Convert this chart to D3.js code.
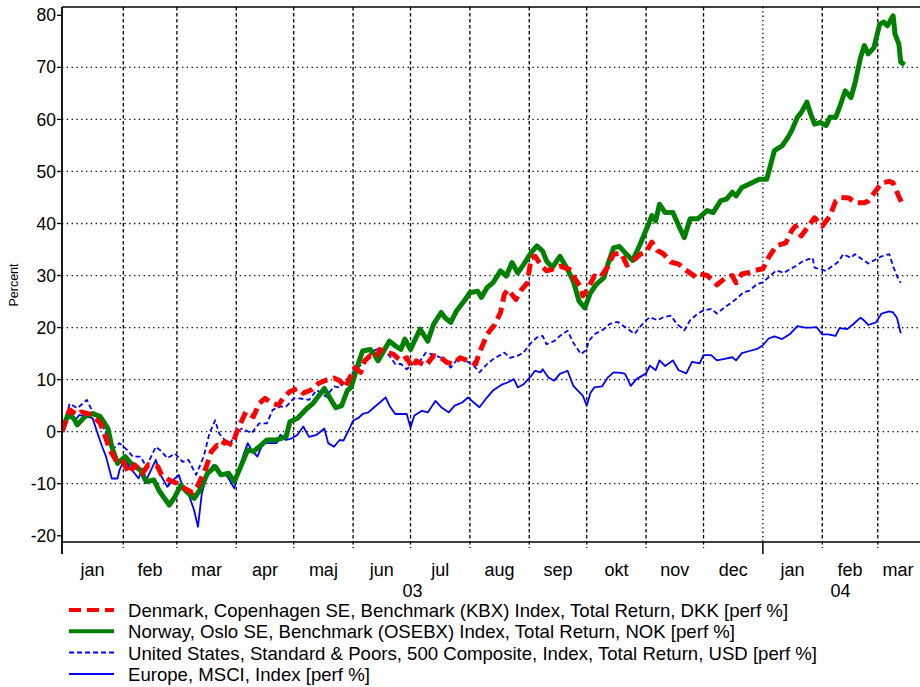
<!DOCTYPE html>
<meta charset="utf-8">
<script src="https://d3js.org/d3.v7.min.js"></script>
<style>
body { margin: 0; background: #fff; }
text { font-family: "Liberation Sans", Arial, sans-serif; fill: #000; }
</style>
<div id="chart"></div>
<script>

// days counted from 31 Dec 2002, values in percent
var dkDays = [0,4,8,10,13,16,20,22,25,28,31,35,38,42,45,50,52,56,60,64,68,71,75,78,81,83,85,89,91,94,96,100,103,106,110,113,116,119,123,126,130,134,138,142,145,148,150,153,156,158,161,164,166,170,173,177,180,183,185,190,194,198,201,204,208,212,216,218,222,226,229,231,233,237,240,243,245,247,250,253,256,260,265,268,271,272,275,278,281,285,288,292,295,299,302,305,308,311,314,318,322,326,331,333,337,340,342,346,350,352,355,359,362,366,369,373,378,381,383,386,391,393,397,401,404,407,411,414,419,421,426,428,432,434,437,439];
var dkValues = [0,4.2,3.2,3.8,3.5,3.2,1.6,-0.3,-3.5,-5.4,-5.1,-8,-6.4,-8,-6.4,-6.7,-8.3,-9.3,-9.9,-10.9,-11.7,-10.3,-7.1,-3.8,-2.6,-2.9,-1.9,-2.6,-0.3,2.2,3.8,2.9,5.4,6.4,5.4,5.1,6.7,7.7,8.3,7.4,8,9.3,9.9,10.3,9.8,8.5,10.1,12.3,11.4,13.6,14.6,14.2,15.8,15.2,14.9,13.6,14.2,12.3,13.6,12.7,14.6,14.2,13.3,13,14.2,13.6,13,15.2,18.7,20.6,22.9,26.4,27.3,25.4,27.3,28.6,33.4,33.7,32.1,30.9,31.2,31.8,31.2,29.3,27.7,26.1,27.7,29.9,29.6,31.7,34.1,34.3,32,33.1,34.1,34.5,36.4,34.8,34.2,32.6,32.2,31,29.7,30.3,30,29,28.2,29.4,30,28.6,30.3,30.6,31,31.3,33.5,35.7,36.3,38.6,39.5,37.6,40.1,41.1,39.5,41.4,44.3,45,44.9,44,44,44.3,46.8,47.8,48.1,47.8,45.2,43.6];

var noDays = [0,3,6,8,12,16,20,24,26,29,33,36,41,44,48,51,56,59,62,65,69,72,76,80,83,87,90,94,97,100,103,107,112,117,119,123,128,131,137,140,143,146,149,151,154,157,161,163,165,168,171,174,177,179,182,184,187,191,194,198,200,203,206,210,213,217,219,222,225,229,232,235,238,241,245,248,251,253,256,260,264,267,270,273,276,279,283,285,288,291,294,298,302,306,308,310,312,315,319,322,325,328,332,337,340,344,347,350,352,355,359,364,368,372,376,379,381,384,386,389,391,393,396,399,401,404,406,409,412,414,417,419,421,424,427,429,431,434,435,437,438,440];
var noValues = [0,3.2,2.6,1.3,2.9,3.5,2.9,0.6,-2.9,-6.1,-4.8,-6.1,-7.4,-9.6,-9.3,-11.5,-14.1,-12.5,-10.3,-11.5,-12.8,-11.2,-8,-6.7,-8.3,-8,-9.6,-6.1,-3.5,-3.8,-2.9,-1.6,-1.6,-1,1.9,2.6,4.5,5.4,8.3,6.4,4.6,5,7.9,8.5,12.3,15.5,15.8,14.9,13.6,15.5,17.4,16.5,15.8,17.8,15.8,17.4,19.7,17.4,20.6,22.9,21.9,21,23.2,25.1,26.7,27,25.8,27.7,28.6,30.9,29.9,32.5,30.5,32.1,34.4,35.7,34.7,32.8,31.5,33.7,31.2,28.9,25.1,23.8,26.7,28.3,29.6,32.1,35.3,35.6,34.4,32.9,36.1,39.6,41.5,40.5,43.7,42.1,42.1,39.6,37.3,40.9,40.9,42.5,42.1,44.4,44.7,46,45.3,46.9,47.6,48.5,48.5,54,54.9,56.5,57.8,60.4,61.3,63.3,61,59.1,59.4,58.8,60.4,60.4,62.3,65.5,64.2,66.8,71.9,74.2,72.6,73.8,78.3,78.7,78,79.9,76.4,74.5,71,70.5];

var usDays = [0,4,8,13,16,20,23,27,30,34,37,41,44,49,52,55,59,63,66,70,74,77,80,82,85,88,91,94,99,103,107,110,114,117,121,124,129,133,138,142,145,150,154,157,160,164,167,171,174,177,180,184,187,190,193,198,200,203,207,211,215,218,222,225,231,234,238,241,245,248,251,253,257,260,264,267,271,274,275,278,283,286,290,294,299,304,307,311,314,318,321,325,328,332,335,339,342,346,350,352,356,359,363,366,370,373,377,380,383,387,392,393,396,399,401,405,408,412,414,418,421,425,428,432,434,436,438];
var usValues = [0,5.4,4.5,6.1,3.8,2.2,-0.3,-3.2,-2.2,-3.5,-4.8,-4.8,-6.7,-2.9,-3.8,-5.1,-4.2,-5.8,-5.4,-8.3,-4.8,-0.3,2.2,-0.3,-1.6,-2.2,0,0.6,-0.3,1.6,1.6,4.2,4.8,4.8,6.4,6.4,6.1,8,6.7,8.7,8.5,10.5,12.3,13,14.6,15.8,15.8,14.6,13,13,12,13.3,13.6,15.2,14.9,14.2,13.3,12.3,14.2,13.6,12.7,11.4,13,13.9,15.2,14.2,14.6,15.2,17.1,18.1,18.4,16.8,17.4,18.4,19.4,17.1,14.9,15.8,17.4,18.7,19.7,20.7,21.1,20.1,18.8,21.1,22,21.4,22,22.3,20.7,19.5,21.4,22.7,23.3,23.6,22.7,23.9,24.9,25.5,26.8,27.1,28.4,28.7,30,31,30.5,31.2,31.8,32.8,33.4,31.5,31.2,30.9,31.5,32.5,34.1,33.4,34.1,33.1,32.3,33.1,33.7,34.1,31.8,29.9,28.6];

var euDays = [0,4,7,9,13,16,18,21,23,26,29,30,33,35,36,40,42,44,49,51,55,58,61,63,66,69,71,73,76,79,81,83,85,87,90,92,95,97,99,102,105,109,112,114,117,120,123,126,129,133,137,139,142,145,147,150,152,155,157,160,163,166,169,171,174,177,180,182,184,188,191,195,198,202,205,209,212,215,218,222,225,230,233,236,238,241,245,247,250,251,254,257,260,264,267,272,274,276,278,282,285,288,292,294,297,300,305,307,310,312,315,319,322,326,329,333,335,339,342,346,350,352,355,359,363,366,369,372,376,380,384,388,391,394,397,400,404,406,410,413,417,419,421,425,428,432,434,436,438];
var euValues = [0,3.8,2.2,3.2,2.9,2.6,0.3,-2.9,-4.8,-9,-9,-7.4,-5.1,-6.7,-7.1,-9,-7.1,-9.3,-5.4,-8,-10.6,-9.3,-8.3,-10.6,-11.9,-15.1,-18.3,-11.9,-8,-6.4,-6.7,-8,-8,-9,-10.9,-8,-4.2,-2.2,-3.5,-4.8,-2.2,-2.2,-2.2,-0.6,-1.6,-1.3,-0.6,1,-1,-0.6,0.6,-2.2,-2.9,-1.6,-1.7,0.5,2.1,2.7,3.4,3.7,4.7,5.6,6.6,5,3.4,3.4,3.4,0.8,3.1,4,3.7,5.9,4.7,3.7,5,5.6,6.6,5.6,4.7,6.6,7.9,9.1,9.5,10.1,8.5,9.1,10.7,11.7,11.4,12,10.4,9.8,11.1,11.7,8.8,6.9,5,7.5,8.5,8.7,10.4,11.4,11.3,11.1,8.8,10.1,11.2,12.7,11.8,13.7,12.6,13.7,11.8,11.2,13.4,13.1,14.7,14.7,13.7,14,14.3,13.7,15.1,15.5,15.9,16.6,17.9,18.3,17.8,18.7,20.3,20,20,20.1,18.7,18.7,18.4,19.9,19.7,20.6,21.9,21.3,20.5,21,22.7,23.1,22.9,21.9,18.9];

var seriesNames = [
  "Denmark, Copenhagen SE, Benchmark (KBX) Index, Total Return, DKK [perf %]",
  "Norway, Oslo SE, Benchmark (OSEBX) Index, Total Return, NOK [perf %]",
  "United States, Standard & Poors, 500 Composite, Index, Total Return, USD [perf %]",
  "Europe, MSCI, Index [perf %]"
];
var monthNames = ["jan","feb","mar","apr","maj","jun","jul","aug","sep","okt","nov","dec"];
var yTicks = [-20,-10,0,10,20,30,40,50,60,70,80];
var yGrid = [-10,0,10,20,30,40,50,60,70];

var W = 920, H = 687;
var pLeft = 62, pRight = 918, pTop = 7, pBottom = 542;

var svg = d3.select("#chart").append("svg")
  .attr("width", W).attr("height", H);

var start = new Date(2002, 11, 31), end = new Date(2004, 2, 22);
var x = d3.scaleTime().domain([start, end]).range([pLeft, pRight]);
var y = d3.scaleLinear().domain([-21.2, 81.6]).range([pBottom, pTop]);

svg.append("clipPath").attr("id", "clip")
  .append("rect").attr("x", pLeft).attr("y", pTop)
  .attr("width", W - pLeft).attr("height", pBottom - pTop);

// horizontal dotted grid
svg.selectAll(".hgrid").data(yGrid).enter().append("line")
  .attr("x1", pLeft).attr("x2", W)
  .attr("y1", function(d) { return y(d); })
  .attr("y2", function(d) { return y(d); })
  .attr("stroke", "#000").attr("stroke-width", 1.3)
  .attr("stroke-dasharray", "1.3,3.5");

// month boundaries
var months = d3.timeMonth.range(new Date(2003, 1, 1), end);
var isYear = function(d) { return d.getMonth() === 0; };
svg.selectAll(".vgrid").data(months).enter().append("line")
  .attr("x1", function(d) { return x(d); })
  .attr("x2", function(d) { return x(d); })
  .attr("y1", pTop).attr("y2", function(d) { return isYear(d) ? pBottom : pBottom + 6; })
  .attr("stroke", "#000").attr("stroke-width", 1.3)
  .attr("stroke-dasharray", function(d) { return isYear(d) ? "1.3,3" : "3.5,2.5"; });
svg.selectAll(".ytick").data(months.filter(isYear)).enter().append("line")
  .attr("x1", function(d) { return x(d); })
  .attr("x2", function(d) { return x(d); })
  .attr("y1", pBottom).attr("y2", pBottom + 12)
  .attr("stroke", "#000").attr("stroke-width", 1.5);

// series
var series = [
  {days: dkDays, values: dkValues, color: "#ff0000", width: 5, dash: "12,6"},
  {days: noDays, values: noValues, color: "#008000", width: 5, dash: null},
  {days: usDays, values: usValues, color: "#0000ff", width: 1.8, dash: "5,3"},
  {days: euDays, values: euValues, color: "#0000ff", width: 1.8, dash: null}
];
var line = d3.line()
  .x(function(d) { return x(d3.timeDay.offset(start, d[0])); })
  .y(function(d) { return y(d[1]); });

var drawOrder = [3, 2, 1, 0];
drawOrder.forEach(function(i) {
  var s = series[i];
  svg.append("path")
    .datum(d3.zip(s.days, s.values))
    .attr("clip-path", "url(#clip)")
    .attr("fill", "none")
    .attr("stroke", s.color)
    .attr("stroke-width", s.width)
    .attr("stroke-linejoin", "round")
    .attr("stroke-dasharray", s.dash)
    .attr("d", line);
});

// axes frame
svg.append("line").attr("x1", pLeft).attr("x2", pLeft).attr("y1", pTop).attr("y2", pBottom + 12)
  .attr("stroke", "#000").attr("stroke-width", 1.8);
svg.append("line").attr("x1", pLeft).attr("x2", W).attr("y1", pTop).attr("y2", pTop)
  .attr("stroke", "#000").attr("stroke-width", 1.5);
svg.append("line").attr("x1", pLeft).attr("x2", W).attr("y1", pBottom).attr("y2", pBottom)
  .attr("stroke", "#000").attr("stroke-width", 1.5);

// y ticks and labels
svg.selectAll(".yt").data(yTicks).enter().append("line")
  .attr("x1", pLeft - 5).attr("x2", pLeft)
  .attr("y1", function(d) { return y(d); }).attr("y2", function(d) { return y(d); })
  .attr("stroke", "#000").attr("stroke-width", 1.3);
svg.selectAll(".yl").data(yTicks).enter().append("text")
  .attr("x", pLeft - 6).attr("y", function(d) { return y(d); })
  .attr("dy", "0.35em").attr("text-anchor", "end")
  .style("font-size", "17.5px")
  .text(function(d) { return d; });

svg.append("text")
  .attr("transform", "translate(18,285) rotate(-90)")
  .attr("text-anchor", "middle")
  .style("font-size", "12.5px")
  .text("Percent");

// month labels centred in each month
var monthStarts = [start].concat(months);
svg.selectAll(".ml").data(monthStarts).enter().append("text")
  .attr("x", function(d) {
    var e = d3.timeMonth.offset(d3.timeMonth.floor(d3.timeDay.offset(d, 1)), 1);
    if (e > end) e = end;
    return (x(d) + x(e)) / 2;
  })
  .attr("y", 576).attr("text-anchor", "middle")
  .style("font-size", "18px")
  .text(function(d) { return monthNames[d3.timeDay.offset(d, 1).getMonth()]; });

// year labels centred in each year
var years = [[start, new Date(2004, 0, 1), "03"], [new Date(2004, 0, 1), end, "04"]];
svg.selectAll(".yr").data(years).enter().append("text")
  .attr("x", function(d) { return (x(d[0]) + x(d[1])) / 2; })
  .attr("y", 597).attr("text-anchor", "middle")
  .style("font-size", "18px")
  .text(function(d) { return d[2]; });

// legend
var legend = svg.selectAll(".lg").data(series).enter().append("g")
  .attr("transform", function(d, i) { return "translate(0," + (610 + i * 21.3) + ")"; });
legend.append("line")
  .attr("x1", 69).attr("x2", 114)
  .attr("stroke", function(d) { return d.color; })
  .attr("stroke-width", function(d) { return d.width > 3 ? 4 : 2; })
  .attr("stroke-dasharray", function(d) { return d.dash; });
legend.append("text")
  .attr("x", 128).attr("y", 7)
  .style("font-size", "18.6px")
  .text(function(d, i) { return seriesNames[i]; });

</script>
